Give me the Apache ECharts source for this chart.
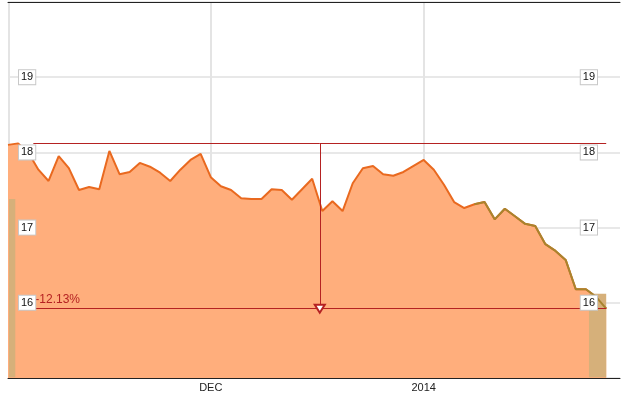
<!DOCTYPE html>
<html><head><meta charset="utf-8">
<script src="https://cdn.jsdelivr.net/npm/echarts@6/dist/echarts.min.js"></script>
<style>html,body{margin:0;padding:0;background:#fff}#c{width:633px;height:395px}</style>
</head><body><div id="c"></div>
<script>
// Daily closing prices, one per trading day, Nov 1 2013 .. Jan 29 2014
const prices = [
  18.10, 18.12, 18.00, 17.77, 17.62, 17.95, 17.79, 17.50, 17.54, 17.51,
  18.02, 17.71, 17.74, 17.86, 17.81, 17.73, 17.62, 17.77, 17.90, 17.98,
  17.67, 17.55, 17.50, 17.39, 17.38, 17.38, 17.51, 17.50, 17.37, 17.51,
  17.65, 17.22, 17.35, 17.22, 17.59, 17.79, 17.82, 17.71, 17.69, 17.74,
  17.82, 17.90, 17.77, 17.57, 17.34, 17.26, 17.31, 17.34, 17.11, 17.25,
  17.15, 17.05, 17.02, 16.78, 16.69, 16.57, 16.18, 16.18, 16.08, 15.922
];
const xTickIndex = [20, 41];          // first trading day of Dec, first of 2014
const xTickLabels = ['DEC', '2014'];
const tailStart = 46;                 // index where the line turns olive

const maxV = Math.max(...prices);
const minV = Math.min(...prices);
const pctText = ((minV / maxV - 1) * 100).toFixed(2) + '%';
const mainData = prices.map((v, i) => [i, v]);
const tailData = prices.slice(tailStart).map((v, k) => [k + tailStart, v]);
const lastIdx = prices.length - 1;
const xMax = 60.36;
const lineStart = 2.5;
const midX = (lineStart + lastIdx) / 2;

const red = '#B52222';
const font = 'Liberation Sans, Arial, sans-serif';
const redLine = {color: red, width: 1, type: 'solid'};

const chart = echarts.init(document.getElementById('c'), null, {renderer: 'canvas'});
const labelBox = {
  inside: true, color: '#111', fontSize: 11, fontFamily: font,
  backgroundColor: '#fff', borderColor: '#c8c8c8', borderWidth: 1,
  padding: [2, 2, 1, 2], showMinLabel: false, showMaxLabel: false
};
chart.setOption({
  animation: false,
  grid: {left: 8, right: 13, top: 2, bottom: 17},
  xAxis: [{
    type: 'value', min: 0, max: xMax, position: 'bottom',
    axisLine: {show: true, onZero: false, lineStyle: {color: '#222', width: 1}},
    axisTick: {show: false}, splitLine: {show: false},
    axisLabel: {
      customValues: xTickIndex,
      formatter: v => xTickLabels[xTickIndex.indexOf(v)] || '',
      color: '#222', fontSize: 11, fontFamily: font, margin: 4,
      showMinLabel: true, showMaxLabel: true
    }
  }, {
    type: 'value', min: 0, max: xMax, position: 'top',
    axisLine: {show: true, onZero: false, lineStyle: {color: '#222', width: 1}},
    axisTick: {show: false}, splitLine: {show: false}, axisLabel: {show: false}
  }],
  yAxis: [{
    type: 'value', min: 15, max: 20, interval: 1, position: 'left',
    axisLine: {show: false}, axisTick: {show: false}, axisLabel: {show: false},
    splitLine: {show: true, lineStyle: {color: '#e8e8e8', width: 2}}
  }, {
    type: 'value', min: 15, max: 20, interval: 1, position: 'left', z: 20,
    axisLine: {show: false}, axisTick: {show: false}, splitLine: {show: false},
    axisLabel: Object.assign({margin: 11}, labelBox)
  }, {
    type: 'value', min: 15, max: 20, interval: 1, position: 'right', z: 20,
    axisLine: {show: false}, axisTick: {show: false}, splitLine: {show: false},
    axisLabel: Object.assign({margin: 23}, labelBox)
  }],
  series: [{
    // vertical grid lines, drawn beneath the area
    type: 'line', data: mainData, z: 0, symbol: 'none', silent: true,
    lineStyle: {opacity: 0},
    markLine: {
      silent: true, z: 0, symbol: ['none', 'none'], label: {show: false},
      lineStyle: {color: '#e4e4e4', width: 2, type: 'solid'},
      data: [0.05].concat(xTickIndex).map(x => ({xAxis: x}))
    }
  }, {
    type: 'line', data: mainData, z: 3, symbol: 'none', smooth: false,
    lineStyle: {color: '#E9691F', width: 2},
    areaStyle: {color: '#FFAE7C', opacity: 1},
    markLine: {
      silent: true, z: 6, symbol: ['none', 'none'], symbolSize: 9,
      label: {show: false},
      lineStyle: redLine,
      data: [
        [{coord: [lineStart, maxV], lineStyle: redLine}, {coord: [lastIdx, maxV], lineStyle: redLine}],
        [{coord: [lineStart, minV], lineStyle: redLine,
          label: {show: true, formatter: pctText, position: 'insideStartTop',
                  color: red, fontSize: 12, fontFamily: font, distance: [2, 3]}},
         {coord: [lastIdx, minV], lineStyle: redLine}],
        [{coord: [midX, maxV], symbol: 'none', lineStyle: redLine},
         {coord: [midX, minV], symbol: 'emptyTriangle', symbolSize: [10, 8], lineStyle: redLine}]
      ]
    }
  }, {
    // highlight strips at both ends
    type: 'line', data: mainData, z: 4, symbol: 'none', silent: true,
    lineStyle: {opacity: 0},
    markArea: {
      silent: true, z: 4,
      itemStyle: {color: '#D6B07A', opacity: 1},
      data: [
        [{xAxis: 57.3, yAxis: 15.01}, {xAxis: lastIdx, yAxis: 16.12}],
        [{xAxis: 0.1, yAxis: 15.01}, {xAxis: 0.72, yAxis: 17.38}]
      ]
    }
  }, {
    type: 'line', data: tailData, z: 5, symbol: 'none',
    lineStyle: {color: '#A8842E', width: 2}
  }]
});
</script>
</body></html>
